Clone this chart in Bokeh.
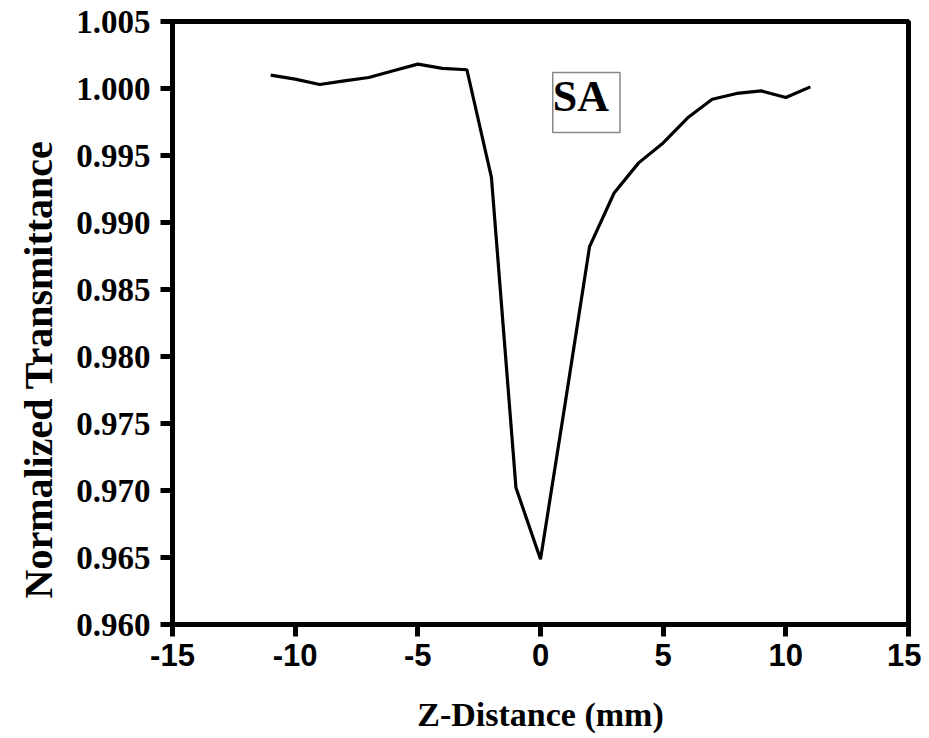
import numpy as np
from bokeh.plotting import figure
from bokeh.models import Range1d, FixedTicker, PrintfTickFormatter, Label, Title, ColumnDataSource
from bokeh.embed import file_html
from bokeh.resources import INLINE

# Data
z_mm = [-11, -10, -9, -8, -7, -6, -5, -4, -3, -2, -1, 0, 1, 2, 3, 4, 5, 6, 7, 8, 9, 10, 11]
transmittance = [1.0010, 1.0007, 1.0003, 1.00057, 1.00082, 1.00132, 1.00182, 1.0015, 1.0014,
                 0.99337, 0.9702, 0.96487, 0.97643, 0.9882, 0.9922, 0.99445, 0.99594, 0.99781,
                 0.9992, 0.99963, 0.99982, 0.99933, 1.00012]
x_ticks = [-15, -10, -5, 0, 5, 10, 15]
y_ticks = [0.960, 0.965, 0.970, 0.975, 0.980, 0.985, 0.990, 0.995, 1.000, 1.005]
x_title = "Z-Distance (mm)"
y_title = "Normalized Transmittance"
tag = "SA"

serif = "Liberation Serif"
sans = "Liberation Sans"

p = figure(width=921, height=735, output_backend="svg", toolbar_location=None,
           x_range=Range1d(-15, 15), y_range=Range1d(0.960, 1.005),
           min_border_left=172, min_border_right=13, min_border_top=21, min_border_bottom=111)

src = ColumnDataSource(dict(x=z_mm, y=transmittance))
p.line("x", "y", source=src, line_color="black", line_width=3.2)

p.grid.visible = False
p.outline_line_color = "black"
p.outline_line_width = 5
p.outline_line_alpha = 1.0

for ax in (p.xaxis[0], p.yaxis[0]):
    ax.axis_line_width = 5
    ax.axis_line_color = "black"
    ax.major_tick_line_width = 5
    ax.major_tick_line_color = "black"
    ax.major_tick_in = 0
    ax.major_tick_out = 12
    ax.minor_tick_line_color = None
    ax.major_label_text_color = "black"
    ax.major_label_text_font_style = "bold"

p.xaxis.ticker = FixedTicker(ticks=x_ticks)
p.yaxis.ticker = FixedTicker(ticks=y_ticks)
p.xaxis.formatter = PrintfTickFormatter(format="%d")
p.yaxis.formatter = PrintfTickFormatter(format="%.3f")

p.xaxis.major_label_text_font = sans
p.xaxis.major_label_text_font_size = "31px"
p.xaxis.major_label_standoff = 7
p.yaxis.major_label_text_font = serif
p.yaxis.major_label_text_font_size = "33px"
p.yaxis.major_label_standoff = 10

p.xaxis.axis_label = x_title
p.xaxis.axis_label_text_font = serif
p.xaxis.axis_label_text_font_size = "34px"
p.xaxis.axis_label_text_font_style = "bold"
p.xaxis.axis_label_text_color = "black"
p.xaxis.axis_label_standoff = 27

ytitle = Title(text=y_title, align="left", offset=26,
               text_font=serif, text_font_size="40px", text_font_style="bold",
               text_color="black", standoff=26)
p.add_layout(ytitle, "left")

sa = Label(x=1.87, y=0.99896, text=tag, text_align="center", text_baseline="middle",
           text_font=serif, text_font_size="44px", text_font_style="bold", text_color="black",
           border_line_color="#888888", border_line_width=1.5, background_fill_color="white",
           padding=[0, 11, 0, 11])
p.add_layout(sa)

open("out.html", "w").write(file_html(p, INLINE))
